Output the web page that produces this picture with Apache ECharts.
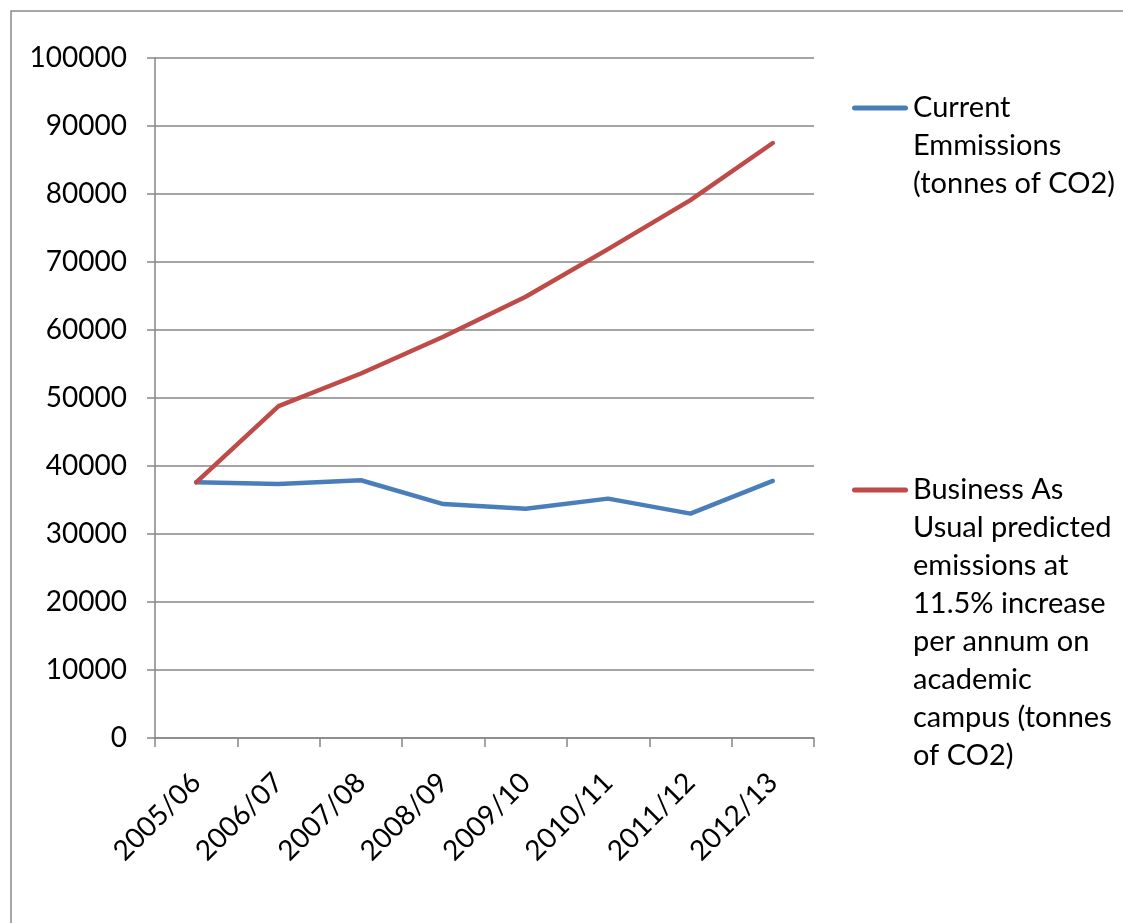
<!DOCTYPE html>
<html>
<head>
<meta charset="utf-8">
<script src="https://cdn.jsdelivr.net/npm/echarts@6/dist/echarts.min.js"></script>
<style>
html,body{margin:0;padding:0;background:#fff;}
#chart{width:1123px;height:923px;}
</style>
</head>
<body>
<div id="chart"></div>
<script>
const categories = ['2005/06','2006/07','2007/08','2008/09','2009/10','2010/11','2011/12','2012/13'];
const currentEmissions = [37600, 37350, 37900, 34400, 33700, 35200, 33000, 37800];
const businessAsUsual = [37600, 48800, 53600, 59000, 64900, 71900, 79100, 87500];
const yMin = 0, yMax = 100000, yInterval = 10000;

const seriesNames = [
  'Current Emmissions (tonnes of CO2)',
  'Business As Usual predicted emissions at 11.5% increase per annum on academic campus (tonnes of CO2)'
];
const legendLines1 = ['Current', 'Emmissions', '(tonnes of CO2)'];
const legendLines2 = ['Business As', 'Usual predicted', 'emissions at', '11.5% increase', 'per annum on', 'academic', 'campus (tonnes', 'of CO2)'];

const FONT = 'Lato';
const LH = 38;
const AX = '#868686';
const lineIcon = 'path://M2.5,0 H53.5 A2.5,2.5 0 0 1 53.5,5 H2.5 A2.5,2.5 0 0 1 2.5,0 Z';

function legendFor(name, lines, centerY) {
  const n = lines.length;
  const box = (2 * n - 1) * LH;
  // blank lines before the text so that the first line sits level with the icon
  const txt = new Array(n - 1).fill(' ').concat(lines).join('\n');
  return {
    show: true,
    orient: 'vertical',
    left: 852,
    top: centerY - box / 2,
    padding: 0,
    data: [name],
    icon: lineIcon,
    itemWidth: 56,
    itemHeight: 5,
    selectedMode: false,
    formatter: () => txt,
    textStyle: {fontFamily: FONT, fontSize: 29, color: '#000', lineHeight: LH}
  };
}

const chart = echarts.init(document.getElementById('chart'), null, {renderer: 'canvas'});
chart.setOption({
  animation: false,
  backgroundColor: '#fff',
  graphic: [{
    type: 'rect', z: -10, silent: true,
    shape: {x: 11, y: 11, width: 1300, height: 1100},
    style: {fill: 'none', stroke: '#898989', lineWidth: 1.5}
  }],
  grid: {left: 155, right: 309, top: 58, bottom: 185, containLabel: false},
  legend: [
    legendFor(seriesNames[0], legendLines1, 108),
    legendFor(seriesNames[1], legendLines2, 490)
  ],
  xAxis: {
    type: 'category',
    data: categories,
    boundaryGap: true,
    axisLine: {show: true, lineStyle: {color: AX, width: 1.5}},
    axisTick: {show: true, length: 9, inside: false, lineStyle: {color: AX, width: 1.5}},
    axisLabel: {rotate: 45, margin: 40, fontFamily: FONT, fontSize: 28, color: '#000', interval: 0},
    splitLine: {show: false}
  },
  yAxis: {
    type: 'value',
    min: yMin, max: yMax, interval: yInterval,
    axisLine: {show: true, lineStyle: {color: AX, width: 1.5}},
    axisTick: {show: true, length: 8, lineStyle: {color: AX, width: 1.5}},
    axisLabel: {margin: 28, fontFamily: FONT, fontSize: 28, color: '#000', formatter: v => String(v)},
    splitLine: {show: true, lineStyle: {color: AX, width: 1.5}}
  },
  series: [
    {
      name: seriesNames[0], type: 'line', data: currentEmissions,
      symbol: 'none', color: '#4A7EBB',
      lineStyle: {color: '#4A7EBB', width: 4.5, cap: 'round', join: 'round'}
    },
    {
      name: seriesNames[1], type: 'line', data: businessAsUsual,
      symbol: 'none', color: '#BE4B48',
      lineStyle: {color: '#BE4B48', width: 4.5, cap: 'round', join: 'round'}
    }
  ]
});
</script>
</body>
</html>
